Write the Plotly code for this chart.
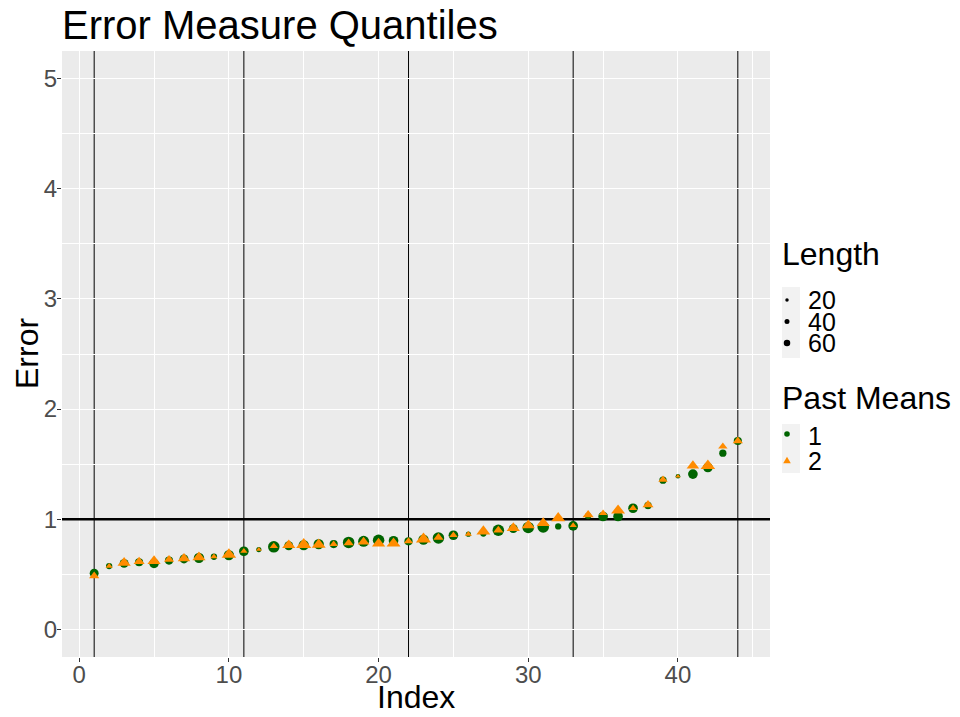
import plotly.graph_objects as go

# ---------------- data ----------------
index = list(range(1, 45))
pm1_error = [0.51, 0.575, 0.60, 0.61, 0.60, 0.625, 0.64, 0.65, 0.66, 0.675,
             0.71, 0.725, 0.75, 0.76, 0.765, 0.775, 0.775, 0.79, 0.80, 0.81,
             0.805, 0.80, 0.815, 0.83, 0.855, 0.865, 0.87, 0.90, 0.915, 0.925,
             0.93, 0.935, 0.94, 1.03, 1.025, 1.025, 1.10, 1.125, 1.355, 1.39,
             1.41, 1.47, 1.60, 1.71]
pm1_length = [30, 15, 30, 25, 35, 25, 30, 40, 15, 40,
              35, 10, 50, 30, 40, 40, 25, 50, 45, 50,
              35, 25, 40, 50, 35, 10, 15, 50, 30, 50,
              50, 15, 35, 15, 35, 35, 35, 20, 20, 8,
              35, 35, 20, 25]
pm2_error = [0.485, 0.575, 0.605, 0.615, 0.62, 0.635, 0.645, 0.655, 0.66, 0.68,
             0.71, 0.725, 0.755, 0.765, 0.77, 0.77, 0.775, 0.785, 0.795, 0.78,
             0.78, 0.80, 0.82, 0.835, 0.855, 0.865, 0.89, 0.90, 0.92, 0.945,
             0.965, 1.01, 0.945, 1.04, 1.055, 1.08, 1.10, 1.13, 1.36, 1.39,
             1.485, 1.485, 1.66, 1.71]
pm2_length = [30, 15, 50, 35, 50, 30, 45, 50, 15, 60,
              15, 10, 20, 50, 65, 55, 20, 30, 40, 50,
              55, 25, 65, 30, 20, 15, 55, 30, 50, 50,
              50, 55, 15, 35, 20, 55, 20, 35, 25, 8,
              45, 60, 25, 30]
quantile_index = [1, 11, 22, 33, 44]
reference_error = [1.0]
x_range = [-1.15, 46.15]
y_range = [-0.25, 5.25]
x_ticks = [0, 10, 20, 30, 40]
y_ticks = [0, 1, 2, 3, 4, 5]
length_legend_values = [20, 40, 60]
length_legend_px = [3.5, 5.0, 6.5]
means_legend_labels = ["1", "2"]

GREEN = "#006400"
ORANGE = "#FF8C00"
FONT = "Arial, Liberation Sans, sans-serif"

W, H = 960, 717
L, R, T, B = 62, 190, 51, 60
PW, PH = W - L - R, H - T - B


def px_x(px):
    return (px - L) / PW


def px_y(py):
    return (H - B - py) / PH


fig = go.Figure()

fig.add_trace(go.Scatter(
    x=index, y=pm1_error, mode="markers", name="1",
    marker=dict(symbol="circle", color=GREEN, size=pm1_length, opacity=1,
                sizemode="area", sizeref=0.75, sizemin=1, line=dict(width=0)),
    showlegend=False))
fig.add_trace(go.Scatter(
    x=index, y=pm2_error, mode="markers", name="2",
    marker=dict(symbol="triangle-up", color=ORANGE, size=pm2_length, opacity=1,
                sizemode="area", sizeref=0.75, sizemin=1, line=dict(width=0)),
    showlegend=False))

shapes = []
for q in quantile_index:
    shapes.append(dict(type="line", xref="x", yref="paper", x0=q, x1=q, y0=0, y1=1,
                       line=dict(color="black", width=1), layer="between"))
for r in reference_error:
    shapes.append(dict(type="line", xref="x", yref="y", x0=x_range[0], x1=x_range[1],
                       y0=r, y1=r, line=dict(color="black", width=2.6), layer="between"))

# legend key backgrounds
shapes.append(dict(type="rect", xref="paper", yref="paper", x0=px_x(782), x1=px_x(800),
                   y0=px_y(358), y1=px_y(287), fillcolor="#F2F2F2", line=dict(width=0)))
shapes.append(dict(type="rect", xref="paper", yref="paper", x0=px_x(782), x1=px_x(800),
                   y0=px_y(473), y1=px_y(424), fillcolor="#F2F2F2", line=dict(width=0)))

annotations = []
# axis titles
annotations.append(dict(text="Index", xref="paper", yref="paper", x=px_x(416), y=px_y(697),
                        xanchor="center", yanchor="middle", showarrow=False,
                        font=dict(family=FONT, size=32, color="black")))
annotations.append(dict(text="Error", xref="paper", yref="paper", x=px_x(27), y=px_y(354),
                        xanchor="center", yanchor="middle", showarrow=False, textangle=-90,
                        font=dict(family=FONT, size=32, color="black")))

annotations.append(dict(text="Length", xref="paper", yref="paper", x=px_x(780), y=px_y(254),
                        xanchor="left", yanchor="middle", showarrow=False,
                        font=dict(family=FONT, size=32, color="black")))
length_rows = [300, 321.5, 343]
for v, d, yy in zip(length_legend_values, length_legend_px, length_rows):
    annotations.append(dict(text=str(v), xref="paper", yref="paper", x=px_x(806), y=px_y(yy),
                            xanchor="left", yanchor="middle", showarrow=False,
                            font=dict(family=FONT, size=25, color="black")))
    r = d / 2
    shapes.append(dict(type="circle", xref="paper", yref="paper", xsizemode="pixel",
                       ysizemode="pixel", xanchor=px_x(787), yanchor=px_y(yy),
                       x0=-r, x1=r, y0=-r, y1=r, fillcolor="black", line=dict(width=0)))

annotations.append(dict(text="Past Means", xref="paper", yref="paper", x=px_x(780), y=px_y(397.5),
                        xanchor="left", yanchor="middle", showarrow=False,
                        font=dict(family=FONT, size=32, color="black")))
means_rows = [436, 461]
for lab, yy, i in zip(means_legend_labels, means_rows, range(2)):
    annotations.append(dict(text=lab, xref="paper", yref="paper", x=px_x(806), y=px_y(yy),
                            xanchor="left", yanchor="middle", showarrow=False,
                            font=dict(family=FONT, size=25, color="black")))
    if i == 0:
        shapes.append(dict(type="circle", xref="paper", yref="paper", xsizemode="pixel",
                           ysizemode="pixel", xanchor=px_x(787), yanchor=px_y(yy - 2),
                           x0=-2.8, x1=2.8, y0=-2.8, y1=2.8, fillcolor=GREEN, line=dict(width=0)))
    else:
        shapes.append(dict(type="path", xref="paper", yref="paper", xsizemode="pixel",
                           ysizemode="pixel", xanchor=px_x(787), yanchor=px_y(yy),
                           path="M -3.8 -2.3 L 3.8 -2.3 L 0 4.2 Z", fillcolor=ORANGE,
                           line=dict(width=0)))

fig.update_layout(
    width=W, height=H,
    margin=dict(l=L, r=R, t=T, b=B, pad=0),
    paper_bgcolor="white", plot_bgcolor="#EBEBEB",
    font=dict(family=FONT, color="black"),
    title=dict(text="Error Measure Quantiles", x=px_x(62), xref="paper", xanchor="left",
               y=1 - 25 / H, yref="container", yanchor="middle",
               font=dict(family=FONT, size=40, color="black")),
    shapes=shapes, annotations=annotations,
    showlegend=False,
    xaxis=dict(range=x_range, tickvals=x_ticks, ticktext=[str(t) for t in x_ticks],
               automargin=False,
               showgrid=True, gridcolor="white", gridwidth=1.1, zeroline=False,
               minor=dict(dtick=5, tick0=0, showgrid=True, gridcolor="white", gridwidth=0.5),
               ticks="outside", ticklen=4, tickwidth=1, tickcolor="#333333",
               ticklabelstandoff=-8,
               tickfont=dict(family=FONT, size=24, color="#4D4D4D"),
               showline=False),
    yaxis=dict(range=y_range, tickvals=y_ticks, ticktext=[str(t) for t in y_ticks],
               automargin=False,
               showgrid=True, gridcolor="white", gridwidth=1.1, zeroline=False,
               minor=dict(dtick=0.5, tick0=0, showgrid=True, gridcolor="white", gridwidth=0.5),
               ticks="outside", ticklen=4, tickwidth=1, tickcolor="#333333",
               ticklabelstandoff=-5,
               tickfont=dict(family=FONT, size=24, color="#4D4D4D"),
               showline=False),
)

fig.write_html("out.html")
